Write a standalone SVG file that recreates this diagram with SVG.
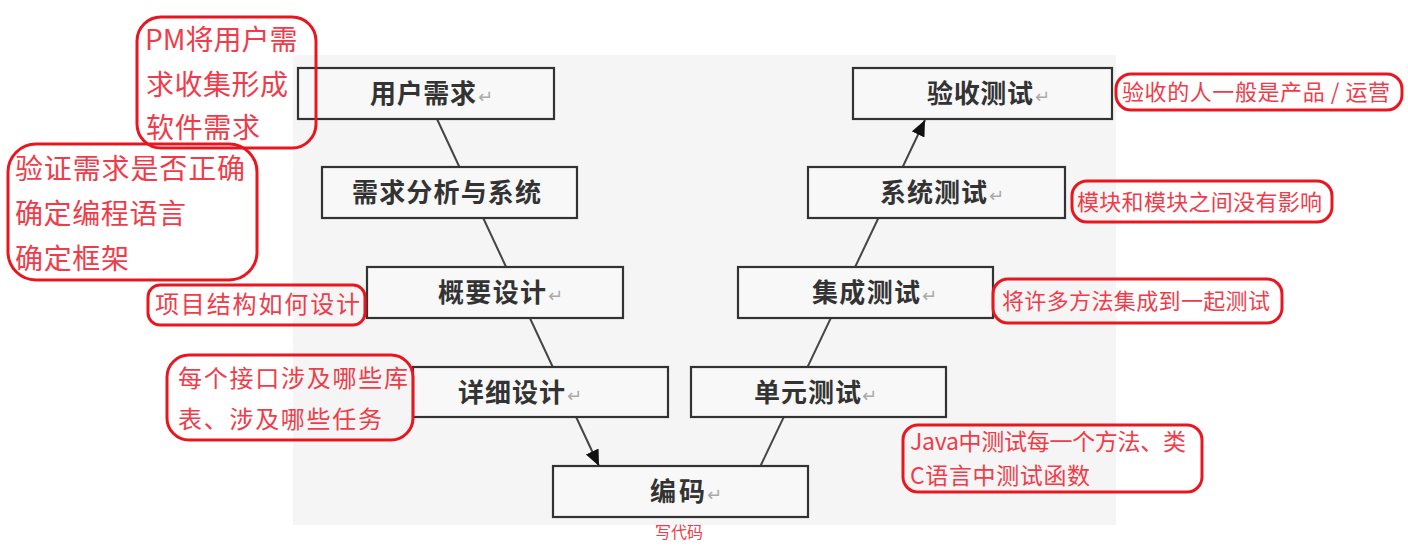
<svg xmlns="http://www.w3.org/2000/svg" width="1408" height="549" viewBox="0 0 1408 549">
<style>
.box{fill:#f8f8f8;stroke:#333;stroke-width:2.2}
.lbl{font-family:"Noto Sans CJK SC","Noto Sans",sans-serif;font-size:26px;font-weight:bold;fill:#333}
.ret{font-family:"DejaVu Sans",sans-serif;font-size:18px;fill:#aaa}
.bub{fill:none;stroke:#e8161f;stroke-width:3}
.note{font-family:"Noto Sans CJK SC","Noto Sans",sans-serif;fill:#f03c4a}
.conn{stroke:#444;stroke-width:2;fill:none}
</style>
<defs>
<marker id="arr" markerUnits="userSpaceOnUse" markerWidth="18" markerHeight="16" refX="16" refY="7" orient="auto">
<path d="M0,0 L16,7 L0,14 Z" fill="#111"/>
</marker>
</defs>
<rect x="293" y="55" width="823" height="470" fill="#f5f5f5"/>
<g id="connectors">
<line class="conn" x1="437" y1="119" x2="599" y2="466" marker-end="url(#arr)"/>
<line class="conn" x1="760" y1="467" x2="925" y2="120" marker-end="url(#arr)"/>
</g>
<g id="n-yhxq"><rect class="box" x="298" y="68" width="256" height="51"/><text class="lbl" x="370" y="103" textLength="106">用户需求</text><text class="ret" x="478" y="103">↵</text></g>
<g id="n-xqfx"><rect class="box" x="322" y="167" width="255" height="51"/><text class="lbl" x="352" y="202" textLength="189">需求分析与系统</text></g>
<g id="n-gysj"><rect class="box" x="367" y="267" width="256" height="51"/><text class="lbl" x="438" y="302" textLength="108">概要设计</text><text class="ret" x="548" y="302">↵</text></g>
<g id="n-xxsj"><rect class="box" x="413" y="367" width="255" height="50"/><text class="lbl" x="458" y="402" textLength="107">详细设计</text><text class="ret" x="567" y="402">↵</text></g>
<g id="n-bm"><rect class="box" x="553" y="466" width="255" height="51"/><text class="lbl" x="650" y="501" textLength="55">编码</text><text class="ret" x="707" y="501">↵</text></g>
<g id="n-dycs"><rect class="box" x="691" y="367" width="255" height="50"/><text class="lbl" x="754" y="402" textLength="107">单元测试</text><text class="ret" x="862" y="402">↵</text></g>
<g id="n-jccs"><rect class="box" x="738" y="267" width="255" height="51"/><text class="lbl" x="812" y="302" textLength="108">集成测试</text><text class="ret" x="922" y="302">↵</text></g>
<g id="n-xtcs"><rect class="box" x="808" y="167" width="257" height="51"/><text class="lbl" x="880" y="202" textLength="107">系统测试</text><text class="ret" x="989" y="202">↵</text></g>
<g id="n-yscs"><rect class="box" x="853" y="68" width="259" height="51"/><text class="lbl" x="927" y="103" textLength="106">验收测试</text><text class="ret" x="1035" y="103">↵</text></g>
<g id="a-pm"><rect class="bub" x="137" y="17" width="179" height="131" rx="24"/>
<text class="note" font-size="28" x="145" y="50">PM将用户需</text>
<text class="note" font-size="28" x="146" y="95" textLength="142">求收集形成</text>
<text class="note" font-size="28" x="146" y="138" textLength="114">软件需求</text></g>
<g id="a-yz"><rect class="bub" x="8" y="144" width="249" height="136" rx="28"/>
<text class="note" font-size="28" x="15" y="179" textLength="230">验证需求是否正确</text>
<text class="note" font-size="28" x="15" y="224" textLength="171">确定编程语言</text>
<text class="note" font-size="28" x="15" y="269" textLength="114">确定框架</text></g>
<g id="a-xm"><rect class="bub" x="148" y="285" width="217" height="40" rx="12"/>
<text class="note" font-size="24" x="155" y="313" textLength="205">项目结构如何设计</text></g>
<g id="a-jk"><rect class="bub" x="167" y="355" width="246" height="85" rx="22"/>
<text class="note" font-size="24" x="178" y="387" textLength="230">每个接口涉及哪些库</text>
<text class="note" font-size="24" x="178" y="428" textLength="204">表、涉及哪些任务</text></g>
<g id="a-ys"><rect class="bub" x="1116" y="74" width="286" height="36" rx="15"/>
<text class="note" font-size="22" x="1122" y="100" textLength="268">验收的人一般是产品 / 运营</text></g>
<g id="a-mk"><rect class="bub" x="1072" y="181" width="260" height="41" rx="15"/>
<text class="note" font-size="22" x="1077" y="210" textLength="245">模块和模块之间没有影响</text></g>
<g id="a-jc"><rect class="bub" x="993" y="279" width="289" height="44" rx="15"/>
<text class="note" font-size="22" x="1002" y="309" textLength="268">将许多方法集成到一起测试</text></g>
<g id="a-java"><rect class="bub" x="903" y="425" width="299" height="67" rx="15"/>
<text class="note" font-size="23" x="910" y="450" textLength="276">Java中测试每一个方法、类</text>
<text class="note" font-size="23" x="910" y="484" textLength="180">C语言中测试函数</text></g>
<text class="note" font-size="16" x="655" y="538">写代码</text>
</svg>
